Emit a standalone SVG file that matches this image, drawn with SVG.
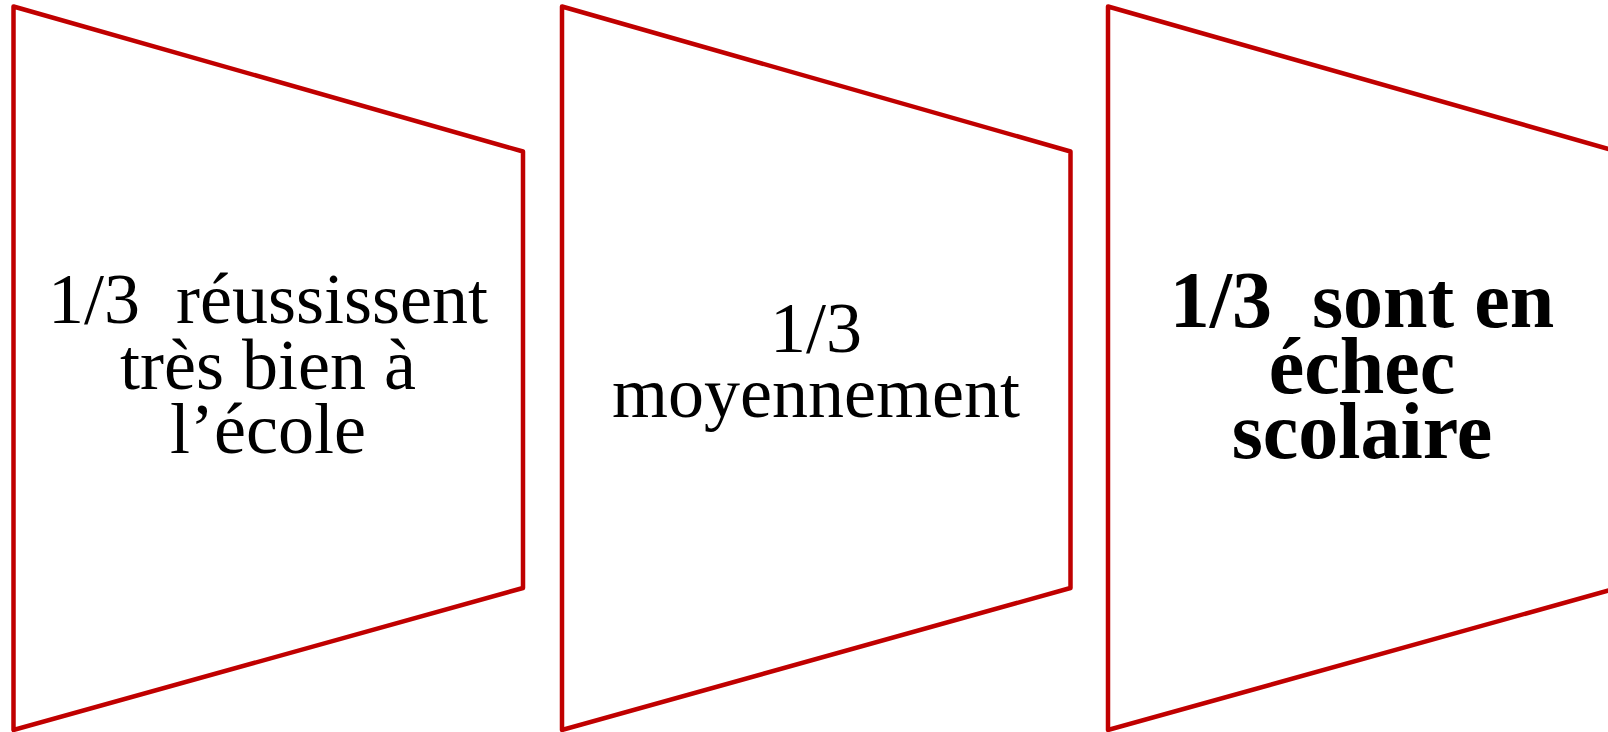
<svg xmlns="http://www.w3.org/2000/svg" width="1608" height="732" viewBox="0 0 1608 732">
<style>
.shape{fill:#FFFFFF;stroke:#C00000;stroke-width:4.5;stroke-linejoin:round}
.t{font-family:"Liberation Serif","Times New Roman",serif;font-size:72px;fill:#000000;text-anchor:middle}
.b{font-family:"Liberation Serif","Times New Roman",serif;font-size:80px;font-weight:bold;fill:#000000;text-anchor:middle}
</style>
<rect width="1608" height="732" fill="#FFFFFF"/>
<g id="node1">
<path class="shape" d="M13.5,6.5 L523,151.5 L523,588 L13.5,730 Z"/>
<text class="t" xml:space="preserve"><tspan x="268" y="323">1/3  réussissent</tspan><tspan x="268" y="389">très bien à</tspan><tspan x="268" y="453">l’école</tspan></text>
</g>
<g id="node2">
<path class="shape" d="M562,6.5 L1070.5,151.5 L1070.5,588 L562,730 Z"/>
<text class="t" xml:space="preserve"><tspan x="816" y="352">1/3</tspan><tspan x="816" y="417">moyennement</tspan></text>
</g>
<g id="node3">
<path class="shape" d="M1108,6.5 L1617.5,151.5 L1617.5,588 L1108,730 Z"/>
<text class="b" xml:space="preserve"><tspan x="1362" y="327">1/3  sont en</tspan><tspan x="1362" y="393">échec</tspan><tspan x="1362" y="458">scolaire</tspan></text>
</g>
</svg>
